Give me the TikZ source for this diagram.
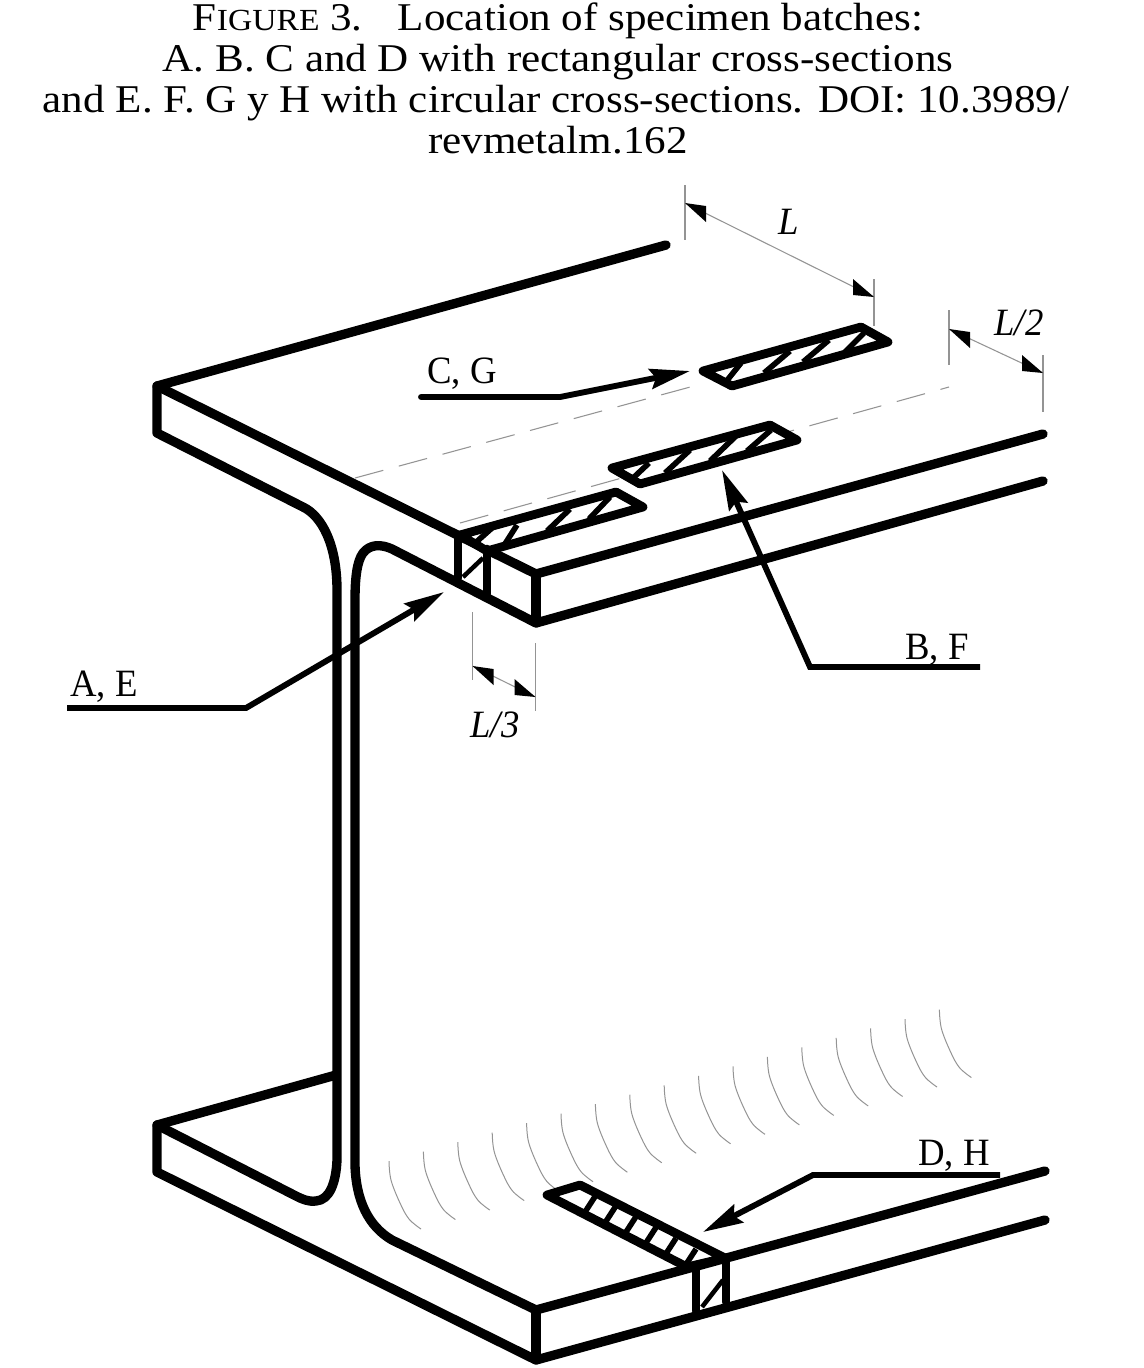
\documentclass[tikz,border=0pt]{standalone}
\usepackage{fontspec}
\setmainfont{Liberation Serif}
\usetikzlibrary{arrows.meta}
\newfontfamily\ttl[FakeStretch=1.095]{Liberation Serif}
\newfontfamily\lbl[FakeStretch=0.95]{Liberation Serif}
\newcommand{\headL}[1]{\fill[black] (#1) -- ++(21,3) -- ++(0,16) -- cycle;}
\newcommand{\headR}[1]{\fill[black] (#1) -- ++(-21,-18) -- ++(0,16) -- cycle;}
\tikzset{
  beam/.style={line width=7pt,line cap=round,line join=round,black},
  spec/.style={line width=6.6pt,line cap=round,line join=round,black,fill=white},
  sect/.style={line width=6.5pt,line cap=round,black},
  hatch/.style={line width=4.2pt,black},
  leader/.style={line width=4.4pt,line join=miter,black,-{Stealth[length=30pt,width=15pt,inset=4pt]}},
  thin gray/.style={line width=0.8pt,black!42},
  dashgray/.style={line width=0.8pt,black!42,dash pattern=on 22pt off 12pt},
  wave/.style={line width=0.75pt,black!42},
  title/.style={inner sep=0,anchor=base,font=\ttl\fontsize{29.5pt}{34pt}\selectfont},
  lab/.style={inner sep=0,anchor=base,font=\lbl\fontsize{29pt}{34pt}\selectfont},
  ilab/.style={inner sep=0,anchor=base,font=\lbl\itshape\fontsize{29pt}{34pt}\selectfont},
}
\begin{document}
\begin{tikzpicture}[x=0.75pt,y=-0.75pt]
\useasboundingbox (0,0) rectangle (1143,1368);
% title
\node[title] (t1) at (558,30) {{F}{\fontsize{23pt}{34pt}\selectfont IGURE} 3.\hspace{0.9em}Location of specimen batches:};
\node[title] (t2) at (558,71) {A. B. C and D with rectangular cross-sections};
\node[title] (t3) at (556,112) {and E. F. G y H with circular cross-sections. DOI: 10.3989/};
\node[title] (t4) at (558,153) {revmetalm.162};
% dashed construction lines
\draw[dashgray] (355,478) -- (705,383);
\draw[dashgray] (460,523) -- (949,387);
% top flange
\draw[beam] (666,245) -- (157,386) -- (157,433) -- (303,507)
  .. controls (322,516) and (337,545) .. (337,590) -- (337,1160)
  .. controls (336,1182) and (330,1200) .. (316,1201) .. controls (308,1202) and (302,1199) .. (296,1196) -- (157,1125);
\draw[beam] (157,386) -- (536,574) -- (1043,434);
\draw[beam] (536,574) -- (536,623);
\draw[beam] (1043,481) -- (536,623) -- (392,549)
  .. controls (381,544) and (370,544) .. (363,553) .. controls (357,561) and (355,578) .. (355,600)
  -- (355,1165) .. controls (356,1200) and (368,1226) .. (392,1240) -- (536,1310) -- (1045,1171);
% bottom flange
\draw[beam] (336,1075) -- (157,1125) -- (157,1172) -- (536,1360) -- (1045,1220);
\draw[beam] (536,1310) -- (536,1360);
% wave marks
\foreach \i in {0,...,16}{
  \draw[wave,xshift=\i*25.8pt,yshift=\i*7.1pt] plot[smooth,tension=0.6] coordinates {(389,1161) (391,1180) (400,1203) (409,1219) (421,1229)};
}
% specimen C
\draw[spec] (703,371) -- (861,327) -- (888,342) -- (732,386) -- cycle;
\draw[hatch] (725,383) -- (741,363) (764,373) -- (790,351) (803,362) -- (829,340) (845,352) -- (864,333);
% specimen B
\draw[spec] (612,468) -- (770,425) -- (797,440) -- (640,484) -- cycle;
\draw[hatch] (632,479) -- (649,463) (665,473) -- (690,450) (710,461) -- (736,436) (747,451) -- (771,430);
% specimen A
\draw[spec] (460,535) -- (616,492) -- (643,507) -- (487,551) -- cycle;
\draw[hatch] (474,544) -- (492,528) (503,547) -- (517,525) (547,531) -- (570,509) (589,519) -- (610,497);
\draw[sect] (458,536) -- (458,578);
\draw[sect] (487,549) -- (487,594);
\draw[line width=3.4pt,black] (463,577) -- (483,558);
% specimen D
\draw[spec] (687,1267) -- (547,1195) -- (580,1185) -- (725,1258) -- cycle;
\foreach \k in {0,...,5}{
  \draw[hatch,xshift=\k*15pt,yshift=-\k*8.1pt] (585,1212) -- (596,1195);
}
\draw[sect] (696,1268) -- (696,1311);
\draw[sect] (726,1260) -- (726,1302);
\draw[line width=3.4pt,black] (702,1307) -- (723,1280);
% dimension L
\coordinate (La) at (685,203); \coordinate (Lb) at (874,297);
\draw[thin gray] (685,185) -- (685,240) (874,279) -- (874,326);
\draw[thin gray] (La) -- (Lb);
\headL{La} \headR{Lb}
\node[ilab] (Ll) at (789,234) {L};
% dimension L/2
\coordinate (Ma) at (949,329); \coordinate (Mb) at (1043,373);
\draw[thin gray] (949,310) -- (949,365) (1043,355) -- (1043,412);
\draw[thin gray] (Ma) -- (Mb);
\headL{Ma} \headR{Mb}
\node[ilab] (Ml) at (1019,335) {L/2};
% dimension L/3
\coordinate (Na) at (472.5,666); \coordinate (Nb) at (535.5,697);
\draw[thin gray] (472.5,612) -- (472.5,680) (535.5,643) -- (535.5,711);
\draw[thin gray] (Na) -- (Nb);
\headL{Na} \headR{Nb}
\node[ilab] (Nl) at (495,737) {L/3};
% leaders
\coordinate (Ca) at (421,397); \coordinate (Cb) at (560,397); \coordinate (Cc) at (690,371);
\draw[leader,line cap=round] (Ca) -- (Cb) -- (Cc);
\node[lab] (Cl) at (462,383) {C, G};
\coordinate (Aa) at (67,708); \coordinate (Ab) at (246,708); \coordinate (Ac) at (444,592);
\draw[leader] (Aa) -- (Ab) -- (Ac);
\node[lab] (Al) at (104,696) {A, E};
\coordinate (Ba) at (980,667); \coordinate (Bb) at (810,667); \coordinate (Bc) at (722,470);
\draw[leader] (Ba) -- (Bb) -- (Bc);
\node[lab] (Bl) at (937,659) {B, F};
\coordinate (Da) at (1000,1175); \coordinate (Db) at (813,1175); \coordinate (Dc) at (703,1232);
\draw[leader] (Da) -- (Db) -- (Dc);
\node[lab] (Dl) at (954,1165) {D, H};
\end{tikzpicture}
\end{document}
